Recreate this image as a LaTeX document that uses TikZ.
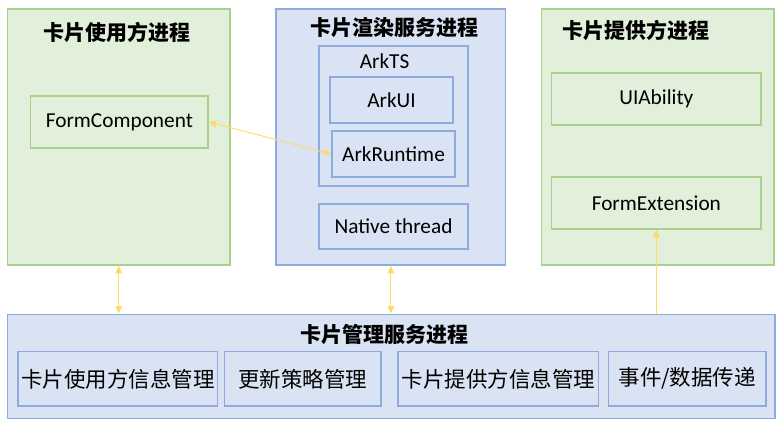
\documentclass[tikz,border=0pt]{standalone}
\usepackage{fontspec}
\setmainfont{Carlito}
\newfontfamily\cjk{Noto Sans CJK SC}
\usepackage{tikz}
\usetikzlibrary{arrows.meta}

\definecolor{greenfill}{HTML}{E2EFDA}
\definecolor{greenline}{HTML}{A9D18E}
\definecolor{bluefill}{HTML}{DAE3F3}
\definecolor{blueline}{HTML}{8FAADC}
\definecolor{linkcol}{HTML}{FFD966}

\tikzset{
    greenbox/.style={rectangle, draw=greenline, fill=greenfill, line width=1.5pt, inner sep=0pt},
    bluebox/.style={rectangle, draw=blueline, fill=bluefill, line width=1.5pt, inner sep=0pt},
    title/.style={font=\cjk\bfseries\fontsize{21}{24}\selectfont},
    label/.style={font=\fontsize{21.3}{24}\selectfont},
    cnlabel/.style={font=\cjk\fontsize{21.5}{24}\selectfont},
    link/.style={draw=linkcol, line width=0.9pt, >={Triangle[length=7.5pt,width=6.5pt]}}
}

\begin{document}
\begin{tikzpicture}[x=1pt, y=-1pt]
    \useasboundingbox (0,0) rectangle (782,429);

    % Card user process
    \node[greenbox, minimum width=222.5pt, minimum height=256pt] (user) at (118.75,137) {};
    \node[title] (usertitle) at (117,32) {卡片使用方进程};
    \node[greenbox, label, minimum width=177.3pt, minimum height=52pt] (fc) at (119.35,122) {FormComponent};

    % Card render service process
    \node[bluebox, minimum width=229.7pt, minimum height=256pt] (render) at (390.85,137) {};
    \node[title] (rendertitle) at (394,28) {卡片渲染服务进程};
    \node[bluebox, minimum width=149pt, minimum height=140pt] (arkts) at (393.5,116) {};
    \node[label] (arktstitle) at (384.5,61) {ArkTS};
    \node[bluebox, label, minimum width=123pt, minimum height=46pt] (arkui) at (391.5,100) {ArkUI};
    \node[bluebox, label, minimum width=123pt, minimum height=46pt] (arkrt) at (393.5,154) {ArkRuntime};
    \node[bluebox, label, minimum width=149pt, minimum height=45pt] (native) at (393.5,226.5) {Native thread};

    % Card provider process
    \node[greenbox, minimum width=232.3pt, minimum height=256pt] (provider) at (657.85,137) {};
    \node[title] (providertitle) at (636,30) {卡片提供方进程};
    \node[greenbox, label, minimum width=209.3pt, minimum height=52pt] (uia) at (656.35,99) {UIAbility};
    \node[greenbox, label, minimum width=209.3pt, minimum height=52pt] (fe) at (656.35,203) {FormExtension};

    % Card manager service process
    \node[bluebox, minimum width=767.5pt, minimum height=104pt] (mgr) at (391.25,366.3) {};
    \node[title] (mgrtitle) at (384,334) {卡片管理服务进程};
    \node[bluebox, cnlabel, minimum width=199.5pt, minimum height=54.3pt] (userinfo) at (117.75,378.85) {卡片使用方信息管理};
    \node[bluebox, cnlabel, minimum width=156.5pt, minimum height=54.3pt] (policy) at (302.75,378.85) {更新策略管理};
    \node[bluebox, cnlabel, minimum width=200.5pt, minimum height=54.3pt] (provinfo) at (498.25,378.85) {卡片提供方信息管理};
    \node[bluebox, cnlabel, minimum width=157.5pt, minimum height=54.3pt] (event) at (687.25,378.85) {事件/数据传递};

    % Links
    \draw[link, <->] (fc.east) -- (arkrt.west);
    \draw[link, <->] (user.south) -- (user.south |- mgr.north);
    \draw[link, <->] (render.south) -- (render.south |- mgr.north);
    \draw[link, ->] (fe.south |- mgr.north) -- (fe.south);
\end{tikzpicture}
\end{document}
